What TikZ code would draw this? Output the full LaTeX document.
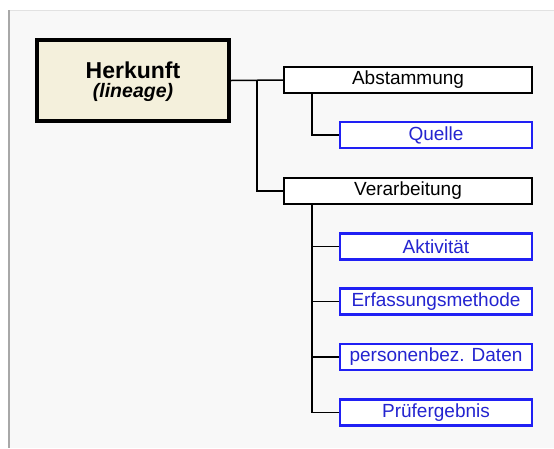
\documentclass[tikz,border=0pt]{standalone}
\usepackage{fontspec}
\setmainfont{Liberation Sans}
\definecolor{panelfill}{HTML}{F8F8F8}
\definecolor{paneltop}{HTML}{E2E2E2}
\definecolor{panelleft}{HTML}{A8A8A8}
\definecolor{cream}{HTML}{F4F0DC}
\definecolor{attrblue}{HTML}{2020F4}
\definecolor{attrtext}{HTML}{2424D0}
\begin{document}
\begin{tikzpicture}[x=1pt,y=-1pt,
  rootbox/.style={draw=black, line width=4pt, fill=cream, minimum width=192pt,
    minimum height=81pt, inner sep=0pt, align=center},
  groupbox/.style={draw=black, line width=2.3pt, fill=white, minimum width=248pt,
    minimum height=26pt, inner sep=0pt, font=\fontsize{19}{21}\selectfont},
  attrbox/.style={draw=attrblue, line width=2.3pt, fill=white, minimum width=192pt,
    minimum height=26pt, inner sep=0pt, text=attrtext, font=\fontsize{19}{21}\selectfont},
  conn/.style={draw=black, line width=1.5pt},
]
% page and background panel
\useasboundingbox (0,0) rectangle (554,448);
\fill[white] (0,0) rectangle (554,448);
\fill[panelfill] (8,10) rectangle (554,448);
\draw[paneltop, line width=1.2pt] (8,10.5) -- (554,10.5);
\draw[panelleft, line width=1.6pt] (8.8,10) -- (8.8,448);

% root entity
\node[rootbox] (root) at (133,80.5) {};
\node[font=\bfseries\fontsize{23}{25}\selectfont] (roottitle) at (133,70) {Herkunft};
\node[font=\bfseries\itshape\fontsize{19.5}{21}\selectfont] (rootsub) at (133,92) {(lineage)};

% groups
\node[groupbox] (abst)  at (408,80)  {Abstammung};
\node[groupbox] (verar) at (408,191) {Verarbeitung};

% attributes
\node[attrbox] (quelle) at (436,135) {Quelle};
\node[attrbox] (akt)    at (436,246.5) {Aktivität};
\node[attrbox] (erf)    at (436,301.5) {Erfassungsmethode};
\node[attrbox] (pers)   at (436,357) {personenbez. Daten};
\node[attrbox] (pruef)  at (436,412.5) {Prüfergebnis};

% connectors
\coordinate (trunk) at (257,80.5);
\draw[conn] (root.east) -- (abst.west);
\draw[conn] (trunk) |- (verar.west);
\draw[conn] ([xshift=-96pt]abst.south) |- (quelle.west);
\foreach \n in {akt,erf,pers,pruef}
  \draw[conn] ([xshift=-96pt]verar.south) |- (\n.west);
\end{tikzpicture}
\end{document}
